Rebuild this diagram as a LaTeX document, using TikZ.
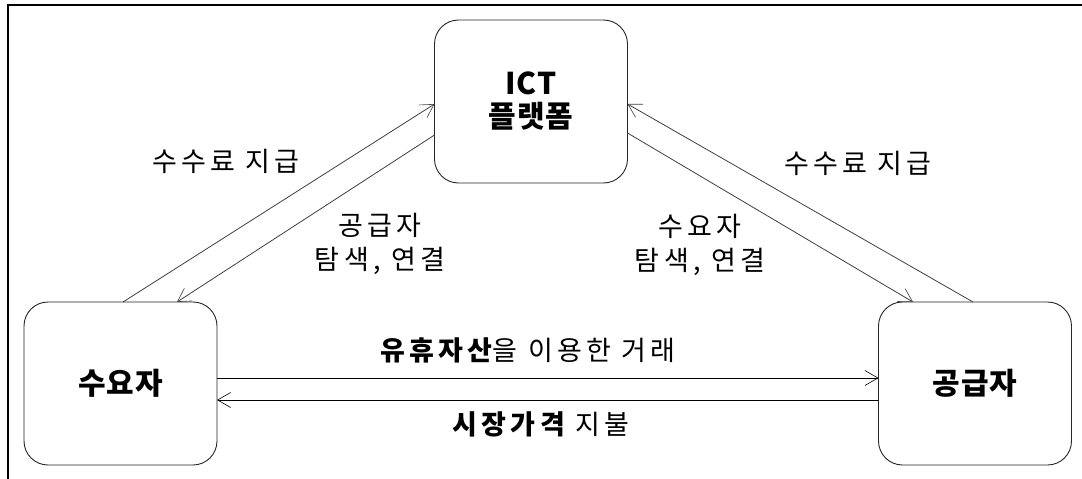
\documentclass[tikz,border=0pt]{standalone}
\usepackage{fontspec}
\setmainfont{Noto Sans CJK KR}[LetterSpace=16]
\newfontfamily\krbox{Noto Sans CJK KR}[LetterSpace=3]
\usetikzlibrary{arrows.meta}
\begin{document}
\begin{tikzpicture}[x=1pt,y=-1pt,
  boxnode/.style={draw=black!85, line width=0.9pt, rounded corners=24pt,
    minimum width=193pt, minimum height=163pt, inner sep=0pt, outer sep=0pt,
    font=\krbox\fontsize{30}{33}\selectfont\bfseries, align=center},
  lbl/.style={font=\fontsize{27}{34}\selectfont, align=center, inner sep=0pt},
  arr/.style={draw=black!75, line width=0.8pt,
    -{Straight Barb[length=13pt,width=15pt,line width=0.6pt]}},
  harr/.style={arr, draw=black}]
\useasboundingbox (0,0) rectangle (1082,479);
\fill[white] (0,0) rectangle (1082,479);
% frame
\draw[line width=2pt] (1082,5) -- (8,5) -- (8,479);
% boxes
\node[boxnode] (ict) at (531,101.5) {ICT\\플랫폼};
\node[boxnode] (sua) at (120.5,383.5) {수요자};
\node[boxnode] (gong) at (975,383.5) {공급자};
% diagonal connectors
\draw[arr] ([xshift=2.5pt]sua.north) -- ([yshift=-2.5pt]ict.west);
\draw[arr] ([yshift=-33.5pt]ict.west) -- ([xshift=56.5pt]sua.north);
\draw[arr] ([xshift=-2pt]gong.north) -- ([yshift=-2.5pt]ict.east);
\draw[arr] ([yshift=-31.5pt]ict.east) -- ([xshift=-62pt]gong.north);
% horizontal connectors
\draw[harr] ([yshift=5.5pt]sua.east) -- ([yshift=5.5pt]gong.west);
\draw[harr] ([yshift=-16.5pt]gong.west) -- ([yshift=-16.5pt]sua.east);
% labels
\node[lbl] (l1) at (226,161) {수수료 지급};
\node[lbl] (l2) at (858,163) {수수료 지급};
\node[lbl] (l3) at (380,243.5) {공급자\\탐색, 연결};
\node[lbl] (l4) at (700,244.5) {수요자\\탐색, 연결};
\node[lbl] (l5) at (528,350) {{\bfseries 유휴자산}을 이용한 거래};
\node[lbl] (l6) at (541,424) {{\bfseries 시장가격} 지불};
\end{tikzpicture}
\end{document}
